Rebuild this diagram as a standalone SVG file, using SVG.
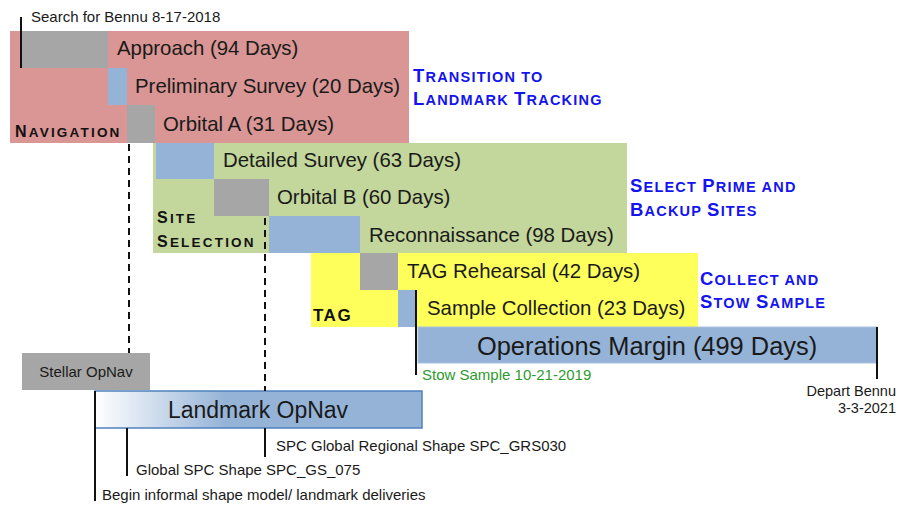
<svg xmlns="http://www.w3.org/2000/svg" width="898" height="506" viewBox="0 0 898 506">
<defs>
<linearGradient id="lmgrad" x1="0" y1="0" x2="1" y2="0">
<stop offset="0" stop-color="#ffffff"/>
<stop offset="0.4" stop-color="#95b3d7"/>
<stop offset="1" stop-color="#95b3d7"/>
</linearGradient>
<style>
text{font-family:"Liberation Sans",Arial,sans-serif;fill:#1a1a1a}
.t20{font-size:20.4px}
.sm{font-size:15px}
.gray{fill:#a6a6a6}
.blue{fill:#95b3d7}
.ph{font-weight:bold;letter-spacing:2.2px;fill:#111}
.ph .c{font-size:16px}
.ph .s{font-size:13.5px}
.ms{font-weight:bold;letter-spacing:1.2px;fill:#1414f0}
.ms .c{font-size:18.5px}
.ms .s{font-size:14.5px}
.ln{stroke:#111;stroke-width:2;fill:none}
.dash{stroke:#111;stroke-width:2;stroke-dasharray:7 5;fill:none}
</style>
</defs>
<rect width="898" height="506" fill="#ffffff"/>

<g id="navigation">
<rect x="10" y="31" width="399" height="112" fill="#d99694"/>
<rect class="gray" x="22" y="31" width="86" height="37"/>
<rect class="blue" x="108" y="68" width="19" height="37"/>
<rect class="gray" x="127" y="105" width="28" height="38"/>
<text class="t20" x="117" y="55">Approach (94 Days)</text>
<text class="t20" x="135" y="93">Preliminary Survey (20 Days)</text>
<text class="t20" x="163" y="131">Orbital A (31 Days)</text>
<text class="ph" x="15" y="137"><tspan class="c">N</tspan><tspan class="s">AVIGATION</tspan></text>
</g>

<g id="site-selection">
<rect x="153" y="143" width="474" height="110" fill="#c3d69b"/>
<rect class="blue" x="156" y="143" width="58" height="36"/>
<rect class="gray" x="214" y="179" width="55" height="37"/>
<rect class="blue" x="269" y="216" width="91" height="37"/>
<text class="t20" x="223" y="167">Detailed Survey (63 Days)</text>
<text class="t20" x="277" y="204">Orbital B (60 Days)</text>
<text class="t20" x="369" y="242">Reconnaissance (98 Days)</text>
<text class="ph" x="157" y="223"><tspan class="c">S</tspan><tspan class="s">ITE</tspan></text>
<text class="ph" x="157" y="247"><tspan class="c">S</tspan><tspan class="s">ELECTION</tspan></text>
</g>

<g id="tag">
<rect x="311" y="253" width="387" height="74" fill="#ffff5c"/>
<rect class="gray" x="360" y="253" width="38" height="37"/>
<rect class="blue" x="398" y="290" width="19" height="37"/>
<text class="t20" x="407" y="278">TAG Rehearsal (42 Days)</text>
<text class="t20" x="427" y="315">Sample Collection (23 Days)</text>
<text x="313" y="321" style="font-size:17px;font-weight:bold;letter-spacing:1.5px;fill:#111">TAG</text>
</g>

<g id="operations-margin">
<rect x="418" y="327" width="459" height="36" fill="#95b3d7" stroke="#a9c1de" stroke-width="1"/>
<text x="477" y="355" style="font-size:25.4px">Operations Margin (499 Days)</text>
</g>

<g id="stellar-opnav">
<rect class="gray" x="22" y="353" width="128" height="37"/>
<text class="sm" x="86" y="377" text-anchor="middle">Stellar OpNav</text>
</g>

<g id="landmark-opnav">
<rect x="95" y="391" width="327" height="37" fill="url(#lmgrad)" stroke="#4f81bd" stroke-width="1.5"/>
<text x="258" y="418" text-anchor="middle" style="font-size:23px">Landmark OpNav</text>
</g>

<g id="milestone-labels">
<text class="ms" x="413" y="82"><tspan class="c">T</tspan><tspan class="s">RANSITION TO</tspan></text>
<text class="ms" x="413" y="105"><tspan class="c">L</tspan><tspan class="s">ANDMARK </tspan><tspan class="c">T</tspan><tspan class="s">RACKING</tspan></text>
<text class="ms" x="630" y="192"><tspan class="c">S</tspan><tspan class="s">ELECT </tspan><tspan class="c">P</tspan><tspan class="s">RIME AND</tspan></text>
<text class="ms" x="630" y="216"><tspan class="c">B</tspan><tspan class="s">ACKUP </tspan><tspan class="c">S</tspan><tspan class="s">ITES</tspan></text>
<text class="ms" x="700" y="285"><tspan class="c">C</tspan><tspan class="s">OLLECT AND</tspan></text>
<text class="ms" x="700" y="308"><tspan class="c">S</tspan><tspan class="s">TOW </tspan><tspan class="c">S</tspan><tspan class="s">AMPLE</tspan></text>
</g>

<g id="event-labels">
<text class="sm" x="31" y="22">Search for Bennu 8-17-2018</text>
<text class="sm" x="422" y="380" style="fill:#2e9a2e">Stow Sample 10-21-2019</text>
<text x="896" y="396" text-anchor="end" style="font-size:14.5px">Depart Bennu</text>
<text x="896" y="413" text-anchor="end" style="font-size:14.5px">3-3-2021</text>
<text class="sm" x="276" y="451">SPC Global Regional Shape SPC_GRS030</text>
<text class="sm" x="136" y="475">Global SPC Shape SPC_GS_075</text>
<text class="sm" x="102" y="500">Begin informal shape model/ landmark deliveries</text>
</g>

<g id="connectors">
<line class="ln" x1="21" y1="17" x2="21" y2="68"/>
<line class="ln" x1="416" y1="290" x2="416" y2="375"/>
<line class="ln" x1="877" y1="327" x2="877" y2="379"/>
<line class="ln" x1="95" y1="391" x2="95" y2="501"/>
<line class="ln" x1="127" y1="428" x2="127" y2="476"/>
<line class="ln" x1="265" y1="428" x2="265" y2="457"/>
<line class="dash" x1="129" y1="144" x2="129" y2="353"/>
<line class="dash" x1="265" y1="218" x2="265" y2="391"/>
</g>
</svg>
